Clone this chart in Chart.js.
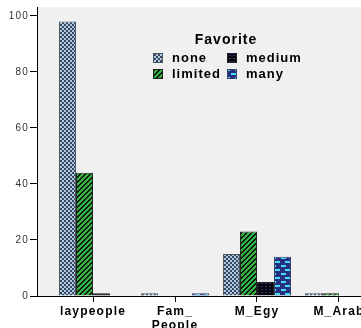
<!DOCTYPE html>
<html>
<head>
<meta charset="utf-8">
<script src="https://cdn.jsdelivr.net/npm/chart.js@4"></script>
<style>
  html, body { margin: 0; padding: 0; background: #fff; overflow: hidden; }
  #wrap { width: 361px; height: 328px; overflow: hidden; position: relative; }
  #chart { position: absolute; left: 0; top: 0; }
</style>
</head>
<body>
<div id="wrap"><canvas id="chart" width="400" height="328"></canvas></div>
<script>
// data
const categories = ['laypeople', ['Fam_', 'People'], 'M_Egy', 'M_Arab'];
const seriesNames = ['none', 'limited', 'medium', 'many'];
const noneValues = [98, 1, 15, 1];
const limitedValues = [44, 0, 23, 1];
const mediumValues = [1, 0, 5, 0];
const manyValues = [0, 1, 14, 0];
const yTicks = [0, 20, 40, 60, 80, 100];

const FONT = '"Liberation Sans", Arial, sans-serif';
Chart.defaults.font.family = FONT;

function makePattern(w, h, bg, fg, cells){
  var c = document.createElement('canvas');
  c.width = w; c.height = h;
  var g = c.getContext('2d');
  g.fillStyle = bg;
  g.fillRect(0, 0, w, h);
  g.fillStyle = fg;
  cells.forEach(function(r){ g.fillRect(r[0], r[1], r[2], r[3]); });
  return document.getElementById('chart').getContext('2d').createPattern(c, 'repeat');
}

// diagonal stripes for "limited"
var stripeCells = [];
for (var y = 0; y < 5; y++){
  for (var x = 0; x < 5; x++){
    if ((x + y) % 5 == 3 || (x + y) % 5 == 4) stripeCells.push([x, y, 1, 1]);
  }
}

var fills = {
  none: makePattern(4, 4, '#a9cbec', '#3e4756', [[0,0,2,2],[2,2,2,2]]),
  limited: makePattern(5, 5, '#33b040', '#0b140b', stripeCells),
  medium: makePattern(4, 3, '#07070c', '#2c3280', [[1,1,2,1]]),
  many: makePattern(10, 8, '#272f80', '#44dcf2', [[1,1,5,2],[5,5,5,2]])
};
var borders = { none: '#4d5560', limited: '#222', medium: '#222', many: '#3a4070' };
var seriesValues = [noneValues, limitedValues, mediumValues, manyValues];

var datasets = seriesNames.map(function(name, k){
  return {
    label: name,
    data: seriesValues[k].map(function(v, i){ return {x: i, y: v}; }),
    backgroundColor: fills[name],
    borderColor: borders[name],
    borderWidth: 1,
    borderSkipped: 'bottom',
    categoryPercentage: 0.83,
    barPercentage: 1.0
  };
});

var bgPlugin = {
  id: 'plotBg',
  beforeDraw: function(chart){
    var a = chart.chartArea, ctx = chart.ctx;
    ctx.save();
    ctx.fillStyle = '#f0f0f0';
    ctx.fillRect(a.left, a.top, a.right - a.left, a.bottom - a.top);
    ctx.restore();
    ctx.letterSpacing = '1.2px';
  },
  afterDraw: function(chart){
    chart.ctx.letterSpacing = '0px';
  }
};

var legendPlugin = {
  id: 'favLegend',
  afterDatasetsDraw: function(chart){
    var ctx = chart.ctx;
    ctx.save();
    ctx.letterSpacing = '1px';
    ctx.fillStyle = '#000';
    ctx.font = 'bold 14px ' + FONT;
    ctx.textAlign = 'center';
    ctx.textBaseline = 'middle';
    ctx.fillText('Favorite', 226, 40);
    var spots = [[153, 53], [153, 69], [227, 53], [227, 69]];
    ctx.font = 'bold 13px ' + FONT;
    ctx.textAlign = 'left';
    seriesNames.forEach(function(name, k){
      var p = spots[k];
      ctx.fillStyle = fills[name];
      ctx.fillRect(p[0], p[1], 10, 10);
      ctx.strokeStyle = borders[name];
      ctx.lineWidth = 1;
      ctx.strokeRect(p[0] + 0.5, p[1] + 0.5, 9, 9);
      ctx.fillStyle = '#000';
      ctx.fillText(name, p[0] + 19, p[1] + 5.5);
    });
    ctx.restore();
  }
};

new Chart(document.getElementById('chart'), {
  type: 'bar',
  data: { datasets: datasets },
  options: {
    responsive: false,
    animation: false,
    layout: { padding: 0 },
    plugins: { legend: { display: false }, tooltip: { enabled: false } },
    scales: {
      x: {
        type: 'linear',
        min: -0.683,
        max: 3.744,
        offset: false,
        afterBuildTicks: function(s){ s.ticks = categories.map(function(c, i){ return {value: i}; }); },
        afterFit: function(s){ s.height = 32; },
        grid: { drawOnChartArea: false, tickLength: 6, color: '#000', offset: false },
        border: { color: '#000', width: 1 },
        ticks: {
          autoSkip: false,
          maxRotation: 0,
          padding: 2,
          color: '#000',
          font: { size: 12, weight: 'bold' },
          callback: function(v){ return categories[v]; }
        }
      },
      y: {
        min: 0,
        max: 103.2,
        afterBuildTicks: function(s){ s.ticks = yTicks.map(function(v){ return {value: v}; }); },
        afterFit: function(s){ s.width = 37; },
        grid: { drawOnChartArea: false, tickLength: 7, color: '#000' },
        border: { color: '#000', width: 1 },
        ticks: { padding: 1, color: '#333', font: { size: 10 } }
      }
    }
  },
  plugins: [bgPlugin, legendPlugin]
});
</script>
</body>
</html>
